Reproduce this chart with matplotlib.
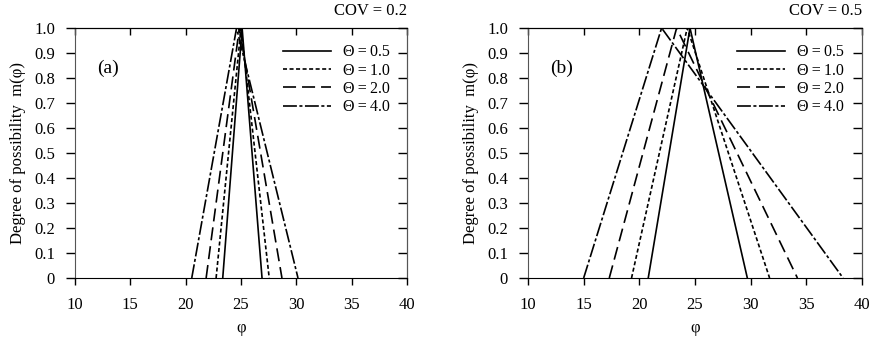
import matplotlib
matplotlib.use("Agg")
import matplotlib.pyplot as plt
from matplotlib.lines import Line2D

plt.rcParams['font.family'] = ['Liberation Serif', 'DejaVu Serif']
plt.rcParams['lines.scale_dashes'] = False

theta = [0.5, 1.0, 2.0, 4.0]
theta_labels = ["\u0398\u2009=\u20090.5", "\u0398\u2009=\u20091.0",
                "\u0398\u2009=\u20092.0", "\u0398\u2009=\u20094.0"]

# panel (a): COV = 0.2 triangular fuzzy numbers (left, peak, right)
a_left = [23.35, 22.75, 21.85, 20.55]
a_peak = [25.1, 25.0, 24.85, 24.6]
a_right = [26.9, 27.55, 28.7, 30.15]

# panel (b): COV = 0.5
b_left = [20.8, 19.3, 17.3, 15.0]
b_peak = [24.55, 24.3, 23.35, 22.0]
b_right = [29.7, 31.7, 34.2, 38.3]

x_ticks = [10, 15, 20, 25, 30, 35, 40]
y_ticks = [0, 0.1, 0.2, 0.3, 0.4, 0.5, 0.6, 0.7, 0.8, 0.9, 1.0]
y_ticklabels = ["0", "0.1", "0.2", "0.3", "0.4", "0.5", "0.6", "0.7", "0.8", "0.9", "1.0"]

styles = [
    dict(linestyle='-'),
    dict(linestyle=(0, (2.9, 1.8))),
    dict(linestyle=(0, (9.4, 4.3))),
    dict(linestyle=(0, (10, 1.8, 2.2, 1.8))),
]

W, H = 871, 337
fig = plt.figure(figsize=(W / 100, H / 100), dpi=100)

def make_ax(l, r, t, b):
    return fig.add_axes([l / W, 1 - b / H, (r - l) / W, (b - t) / H])

ax_a = make_ax(75, 407, 28, 278)
ax_b = make_ax(528, 862, 28, 278)

panels = [
    (ax_a, a_left, a_peak, a_right, "(a)", "COV = 0.2"),
    (ax_b, b_left, b_peak, b_right, "(b)", "COV = 0.5"),
]

for ax, L, P, R, tag, cov in panels:
    for i in range(len(theta)):
        ax.plot([L[i], P[i], R[i]], [0, 1, 0], color='black', lw=1.2,
                **styles[i])
    ax.set_xlim(10, 40)
    ax.set_ylim(0, 1.0)
    ax.set_xticks(x_ticks)
    ax.set_yticks(y_ticks)
    ax.set_yticklabels(y_ticklabels)
    ax.tick_params(axis='y', direction='out', length=6.5, width=1,
                   labelsize=12, colors='black', pad=8)
    ax.tick_params(axis='x', direction='out', length=5, width=1,
                   labelsize=12, colors='black', pad=9)
    sec_y = ax.secondary_yaxis('right')
    sec_y.set_yticks(y_ticks)
    sec_y.tick_params(direction='in', length=6.5, width=1, labelright=False)
    sec_x = ax.secondary_xaxis('top')
    sec_x.set_xticks(x_ticks)
    sec_x.tick_params(direction='in', length=5, width=1, labeltop=False)
    for s in ['left', 'right']:
        ax.spines[s].set_color('#555555')
    sec_y.spines['right'].set_color('#555555')
    ax.set_xlabel("\u03c6", fontsize=12, labelpad=5)
    ax.set_ylabel("Degree of possibility  m(\u03c6)", fontsize=12, labelpad=6)
    ax.text(0.066, 0.84, tag, transform=ax.transAxes, fontsize=14,
            ha='left', va='center')
    ax.text(1.0, 1.035, cov, transform=ax.transAxes, fontsize=12,
            ha='right', va='bottom')
    handles = [Line2D([], [], color='black', lw=1.2, **styles[i])
               for i in range(len(theta))]
    ax.legend(handles, theta_labels, loc='upper left',
              bbox_to_anchor=(0.626, 0.935), frameon=False, fontsize=11.5,
              handlelength=3.0, handletextpad=0.75, labelspacing=0.15,
              borderpad=0, borderaxespad=0)

fig.savefig("out.png", dpi=100)
